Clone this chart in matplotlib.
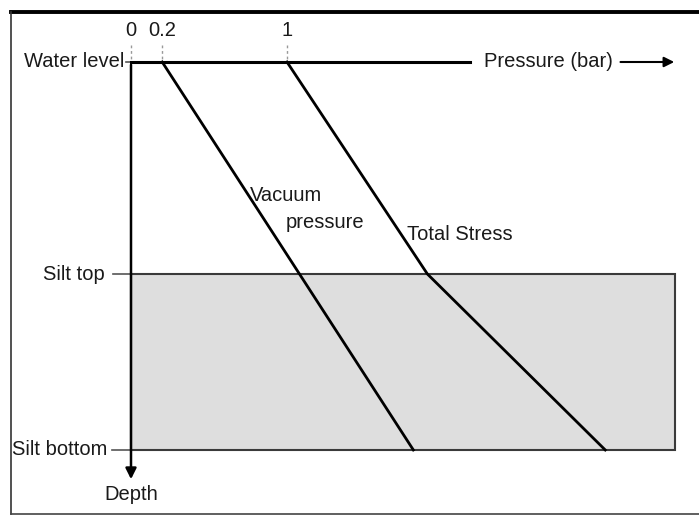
import numpy as np
import matplotlib.pyplot as plt
from matplotlib.patches import Rectangle
from matplotlib.lines import Line2D

# depth levels (arbitrary units, water level = 0, silt top = 1)
levels = [0.0, 1.0, 1.83]
level_names = ['Water level', 'Silt top', 'Silt bottom']
label_right = [-0.04, -0.17, -0.15]
dash_start = [-0.035, -0.115, -0.12]

# pressure (bar) at each level
vacuum = [0.2, 1.08, 1.81]
total_stress = [1.0, 1.90, 3.04]

xticks = [0, 0.2, 1]
xticklabels = ['0', '0.2', '1']

silt_right = 3.49
water_line_end = 2.17

plt.rcParams['font.family'] = ['Liberation Sans', 'DejaVu Sans']
fs = 14.5
tc = '#1a1a1a'

fig = plt.figure(figsize=(6.99, 5.16), dpi=100)
ax = fig.add_axes([0, 0, 1, 1])
ax.set_xlim(-131/156., (699-131)/156.)
ax.set_ylim((516-62)/212., -62/212.)
ax.axis('off')

# frame
fig.add_artist(Line2D([11/699., 1], [1-12/516., 1-12/516.], color='k', lw=2.8, transform=fig.transFigure))
fig.add_artist(Line2D([11/699., 11/699.], [1-12/516., 1-514/516.], color='#333333', lw=1.2, transform=fig.transFigure))
fig.add_artist(Line2D([11/699., 1], [1-514/516., 1-514/516.], color='#444444', lw=1.2, transform=fig.transFigure))

# silt layer
ax.add_patch(Rectangle((0, levels[1]), silt_right, levels[2]-levels[1],
                       facecolor='#dedede', edgecolor='#3a3a3a', lw=1.5, zorder=1))

# water level line
ax.plot([0, water_line_end], [0, 0], color='k', lw=2.2, zorder=3)

# depth axis with arrow
ax.annotate('', xy=(0, (482-62)/212.), xytext=(0, 0),
            arrowprops=dict(arrowstyle='-|>', color='k', lw=1.8, mutation_scale=16), zorder=4)
ax.text(0, (494-62)/212., 'Depth', ha='center', va='center', fontsize=fs, color=tc)

# pressure arrow
ax.text(2.26, 0, 'Pressure (bar)', ha='left', va='center', fontsize=fs, color=tc)
ax.annotate('', xy=(3.5, 0), xytext=(3.12, 0),
            arrowprops=dict(arrowstyle='-|>', color='k', lw=1.5, mutation_scale=15))

# x ticks
for xt, lab in zip(xticks, xticklabels):
    ax.plot([xt, xt], [-0.08, 0], color='#999999', lw=1, ls=(0, (2, 2)), zorder=2)
    ax.text(xt, -0.15, lab, ha='center', va='center', fontsize=fs, color=tc)

# level labels
for lv, name, xr, xd in zip(levels, level_names, label_right, dash_start):
    ax.plot([xd, 0], [lv, lv], color='#555555', lw=1.2, zorder=2)
    ax.text(xr, lv, name, ha='right', va='center', fontsize=fs, color=tc)

# pressure lines
ax.plot(vacuum, levels, color='k', lw=2.0, zorder=3)
ax.plot(total_stress, levels, color='k', lw=2.0, zorder=3)

ax.text(0.765, 0.63, 'Vacuum', ha='left', va='center', fontsize=fs, color=tc)
ax.text(0.99, 0.755, 'pressure', ha='left', va='center', fontsize=fs, color=tc)
ax.text(1.77, 0.815, 'Total Stress', ha='left', va='center', fontsize=fs, color=tc)

fig.savefig('out.png', dpi=100)
